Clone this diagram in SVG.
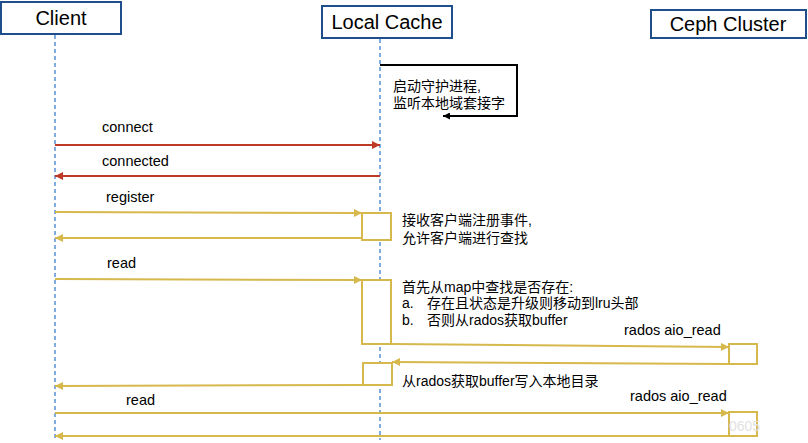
<svg xmlns="http://www.w3.org/2000/svg" width="808" height="443" viewBox="0 0 808 443">
<defs>
<style>
.hdr{fill:#fff;stroke:#1F4E8C;stroke-width:2}
.htxt{font-family:"Liberation Sans","Noto Sans CJK SC",sans-serif;font-size:20px;fill:#000;text-anchor:middle}
.life{stroke:#2E75C9;stroke-width:1.2;stroke-dasharray:4 3;fill:none}
.lbl{font-family:"Liberation Sans","Noto Sans CJK SC",sans-serif;font-size:14.5px;fill:#000}
.note{font-family:"Liberation Sans","Noto Sans CJK SC",sans-serif;font-size:14px;fill:#000}
.red{stroke:#BE3A26;stroke-width:2;fill:none}
.yel{stroke:#D6B84C;stroke-width:2;fill:none}
.act{stroke:#D6B84C;stroke-width:2;fill:#fff}
.blk{stroke:#000;stroke-width:2;fill:none}
</style>
<marker id="ar" viewBox="0 0 10 10" refX="10" refY="5" markerWidth="10" markerHeight="8" markerUnits="userSpaceOnUse" orient="auto"><path d="M0,0 L10,5 L0,10 z" fill="#BE3A26"/></marker>
<marker id="ay" viewBox="0 0 10 10" refX="10" refY="5" markerWidth="11" markerHeight="8" markerUnits="userSpaceOnUse" orient="auto"><path d="M0,0 L10,5 L0,10 z" fill="#D6B84C"/></marker>
<marker id="ab" viewBox="0 0 10 10" refX="10" refY="5" markerWidth="8" markerHeight="7" markerUnits="userSpaceOnUse" orient="auto"><path d="M0,0 L10,5 L0,10 z" fill="#000"/></marker>
</defs>
<rect width="808" height="443" fill="#fff"/>

<g id="client">
<rect class="hdr" x="1" y="2" width="120" height="32"/>
<text class="htxt" x="61" y="25">Client</text>
<line class="life" x1="55" y1="35" x2="55" y2="440"/>
</g>
<g id="localcache">
<rect class="hdr" x="322" y="6" width="130" height="32"/>
<text class="htxt" x="387" y="29">Local Cache</text>
<line class="life" x1="380" y1="39" x2="380" y2="440"/>
</g>
<g id="ceph">
<rect class="hdr" x="651" y="10" width="155" height="28"/>
<text class="htxt" x="728" y="31">Ceph Cluster</text>
</g>

<g id="activations">
<rect class="act" x="362" y="213" width="29" height="27"/>
<rect class="act" x="362" y="280" width="29" height="64"/>
<rect class="act" x="363" y="363" width="29" height="22"/>
<rect class="act" x="729" y="344" width="28" height="20"/>
<rect class="act" x="729" y="412" width="28" height="24"/>
<text x="729" y="431" font-family="Liberation Sans,sans-serif" font-size="14" fill="#e2e2e2">0605</text>
</g>

<g id="connectors">
<path class="blk" d="M380,65 H517 V116 H443" marker-end="url(#ab)"/>
<line class="red" x1="55" y1="145" x2="380" y2="145" marker-end="url(#ar)"/>
<line class="red" x1="380" y1="176" x2="55" y2="176" marker-end="url(#ar)"/>
<line class="yel" x1="55" y1="212" x2="362" y2="213" marker-end="url(#ay)"/>
<line class="yel" x1="362" y1="238" x2="55" y2="238" marker-end="url(#ay)"/>
<line class="yel" x1="55" y1="279" x2="362" y2="280" marker-end="url(#ay)"/>
<line class="yel" x1="391" y1="344" x2="729" y2="347" marker-end="url(#ay)"/>
<line class="yel" x1="729" y1="364" x2="392" y2="362" marker-end="url(#ay)"/>
<line class="yel" x1="363" y1="385" x2="55" y2="386" marker-end="url(#ay)"/>
<line class="yel" x1="55" y1="413" x2="729" y2="413" marker-end="url(#ay)"/>
<line class="yel" x1="729" y1="436" x2="55" y2="436" marker-end="url(#ay)"/>
</g>

<g id="labels">
<text class="note" x="393" y="91">启动守护进程,</text>
<text class="note" x="393" y="108">监听本地域套接字</text>
<text class="lbl" x="102" y="132">connect</text>
<text class="lbl" x="102" y="166">connected</text>
<text class="lbl" x="106" y="202">register</text>
<text class="note" x="402" y="225">接收客户端注册事件,</text>
<text class="note" x="402" y="243">允许客户端进行查找</text>
<text class="lbl" x="107" y="268">read</text>
<text class="note" x="402" y="292">首先从map中查找是否存在:</text>
<text class="note" x="402" y="308">a.</text>
<text class="note" x="427" y="308">存在且状态是升级则移动到lru头部</text>
<text class="note" x="402" y="325">b.</text>
<text class="note" x="427" y="325">否则从rados获取buffer</text>
<text class="lbl" x="624" y="335">rados aio_read</text>
<text class="note" x="402" y="386">从rados获取buffer写入本地目录</text>
<text class="lbl" x="126" y="405">read</text>
<text class="lbl" x="630" y="401">rados aio_read</text>
</g>
</svg>
